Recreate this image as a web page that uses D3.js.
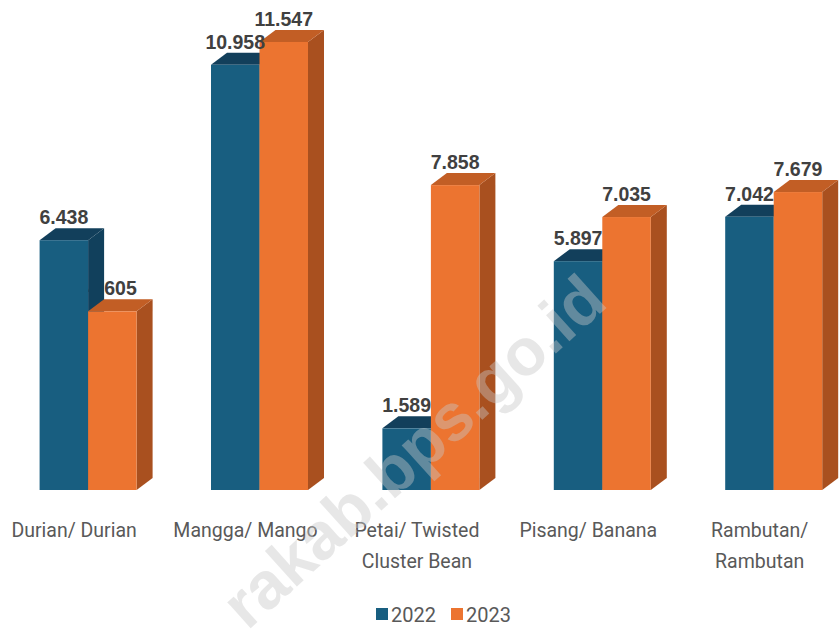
<!DOCTYPE html>
<html><head><meta charset="utf-8">
<script src="https://cdn.jsdelivr.net/npm/d3@7/dist/d3.min.js"></script>
<style>body{margin:0;background:#fff}svg{display:block}</style>
</head><body><svg id="c" width="839" height="629"></svg>
<script>
const categories = [["Durian/ Durian"],["Mangga/ Mango"],["Petai/ Twisted","Cluster Bean"],["Pisang/ Banana"],["Rambutan/","Rambutan"]];
const catKeys = ["Durian","Mangga","Petai","Pisang","Rambutan"];
const series = ["2022","2023"];
const values2022 = [6.438, 10.958, 1.589, 5.897, 7.042];
const values2023 = [4.605, 11.547, 7.858, 7.035, 7.679];
const valueLabels2022 = ["6.438","10.958","1.589","5.897","7.042"];
const valueLabels2023 = ["4.605","11.547","7.858","7.035","7.679"];

const colors = {
  "2022": {front:"#185e80", top:"#123f5b", side:"#11405c"},
  "2023": {front:"#ec7430", top:"#c25e25", side:"#a9501f"}
};
const DX = 16, DY = -12;

const svg = d3.select("#c");
const x = d3.scaleBand().domain(catKeys).range([2.4, 859.4]);
const xi = d3.scaleBand().domain(series).range([-48.5, 48.5]);
const y = d3.scaleLinear().domain([0, 12]).range([490, 24.4]);

const data = catKeys.map((k,i)=>({k, i, v:{"2022":values2022[i],"2023":values2023[i]}, l:{"2022":valueLabels2022[i],"2023":valueLabels2023[i]}}));
const cx = d => x(d.k) + x.bandwidth()/2;

const gLab23 = svg.append("g"), gBars = svg.append("g"), gLab22 = svg.append("g");

function label(g, d, s){
  const x0 = cx(d) + xi(s), w = xi.bandwidth();
  g.append("text").attr("x", x0 + w/2).attr("y", y(d.v[s]) + DY - 4)
   .attr("text-anchor","middle").attr("font-family","Liberation Sans, Arial, sans-serif")
   .attr("font-weight","bold").attr("font-size",19.5).attr("fill","#404040").text(d.l[s]);
}
function bar(g, d, s){
  const x0 = cx(d) + xi(s), w = xi.bandwidth(), x1 = x0 + w;
  const yt = y(d.v[s]), yb = y(0), c = colors[s];
  g.append("path").attr("fill", c.side)
   .attr("d", `M${x1},${yt}L${x1+DX},${yt+DY}L${x1+DX},${yb+DY}L${x1},${yb}Z`);
  g.append("path").attr("fill", c.top)
   .attr("d", `M${x0},${yt}L${x0+DX},${yt+DY}L${x1+DX},${yt+DY}L${x1},${yt}Z`);
  g.append("rect").attr("x", x0).attr("y", yt).attr("width", w).attr("height", yb-yt).attr("fill", c.front);
}
data.forEach(d=>{
  label(gLab23, d, "2023");
  bar(gBars, d, "2022");
  bar(gBars, d, "2023");
  label(gLab22, d, "2022");
});

const gc = svg.append("g");
data.forEach((d,i)=>{
  const t = gc.append("text").attr("x", cx(d) - 14).attr("y", 537)
    .attr("text-anchor","middle").attr("font-family","Roboto, sans-serif")
    .attr("font-size",19.5).attr("fill","#595959");
  categories[i].forEach((line,j)=>{
    t.append("tspan").attr("x", cx(d) - 14).attr("dy", j===0?0:31).text(line);
  });
});

const leg = svg.append("g");
const legX = [376, 451];
series.forEach((s,i)=>{
  leg.append("rect").attr("x", legX[i]).attr("y", 608).attr("width",12).attr("height",12).attr("fill", colors[s].front);
  leg.append("text").attr("x", legX[i]+15).attr("y", 622).attr("font-family","Roboto, sans-serif")
    .attr("font-size",20).attr("fill","#595959").text(s);
});

svg.append("text").attr("transform","translate(598,292) rotate(-42)")
  .attr("text-anchor","end").attr("dominant-baseline","middle")
  .attr("font-family","Liberation Sans, Arial, sans-serif").attr("font-weight","bold")
  .attr("font-size",66).attr("fill","#c8c8c8").attr("opacity",0.42).text("rakab.bps.go.id");
</script></body></html>
